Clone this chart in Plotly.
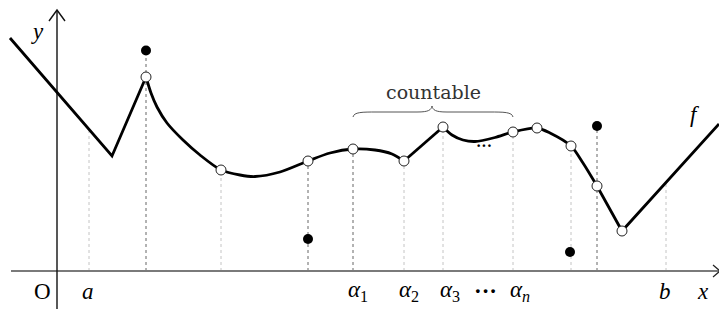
import plotly.graph_objects as go

# ---- data (math coordinates, origin O at the axes crossing) ----
seg1_x = [-47, 55, 89]
seg1_y = [233, 115, 194]

seg2_x = [89, 94, 100, 110, 126, 143, 164, 183, 198, 223, 251, 273, 296, 318, 335, 347]
seg2_y = [194, 178, 164, 148, 131, 116, 101, 96, 94.5, 99, 110, 118, 122, 121, 117, 110]

seg3_x = [347, 386]
seg3_y = [110, 144]

seg4_x = [386, 395, 406, 418, 438, 456, 480, 493, 514, 526, 540]
seg4_y = [144, 136, 131, 129.5, 133.5, 139, 143, 138, 125, 108, 85]

seg5_x = [540, 565, 662]
seg5_y = [85, 40, 147]

open_x = [89, 164, 251, 296, 347, 386, 456, 480, 514, 540, 565]
open_y = [194, 101, 110, 122, 110, 144, 139, 143, 125, 85, 40]

filled_x = [89, 251, 513, 540]
filled_y = [220.5, 32, 19, 145]

dark_guide_x = [89, 251, 296, 540]
dark_guide_top = [220.5, 110, 122, 145]
light_guide_x = [32, 164, 347, 386, 456, 514, 609]
light_guide_top = [140.6, 101, 110, 144, 139, 125, 88.5]

tick_labels = ["O", "<i>a</i>", "<i>α</i><sub>1</sub>", "<i>α</i><sub>2</sub>",
               "<i>α</i><sub>3</sub>", "<b>···</b>", "<i>α</i><sub><i>n</i></sub>",
               "<i>b</i>", "<i>x</i>"]
tick_label_x = [-15, 31, 301, 352, 393, 428, 463, 608, 646]

fig = go.Figure()

def guides(xs, tops, color):
    gx, gy = [], []
    for x, t in zip(xs, tops):
        gx += [x, x, None]
        gy += [0, t, None]
    fig.add_trace(go.Scatter(x=gx, y=gy, mode="lines",
                             line=dict(color=color, width=1, dash="3px,3px"),
                             hoverinfo="skip"))

guides(light_guide_x, light_guide_top, "#c4c4c4")
guides(dark_guide_x, dark_guide_top, "#666666")

# axes
fig.add_trace(go.Scatter(x=[-46, 662], y=[0, 0], mode="lines",
                         line=dict(color="#7a7a7a", width=2), hoverinfo="skip"))
fig.add_trace(go.Scatter(x=[656, 663, 656], y=[6, 0, -6], mode="lines",
                         line=dict(color="#222", width=1.2), hoverinfo="skip"))
fig.add_trace(go.Scatter(x=[0, 0], y=[-38, 261], mode="lines",
                         line=dict(color="#111", width=1.4), hoverinfo="skip"))
fig.add_trace(go.Scatter(x=[-8, 0, 8], y=[250, 261, 250], mode="lines",
                         line=dict(color="#111", width=1.4), hoverinfo="skip"))

# function graph
for sx, sy, shape in [(seg1_x, seg1_y, "linear"), (seg2_x, seg2_y, "spline"),
                      (seg3_x, seg3_y, "linear"), (seg4_x, seg4_y, "spline"),
                      (seg5_x, seg5_y, "linear")]:
    fig.add_trace(go.Scatter(x=sx, y=sy, mode="lines",
                             line=dict(color="black", width=2.8, shape=shape, smoothing=0.8),
                             hoverinfo="skip"))

fig.add_trace(go.Scatter(x=open_x, y=open_y, mode="markers",
                         marker=dict(size=10, color="white", line=dict(color="#222", width=1)),
                         hoverinfo="skip"))
fig.add_trace(go.Scatter(x=filled_x, y=filled_y, mode="markers",
                         marker=dict(size=10, color="black"), hoverinfo="skip"))

# brace over the countable set
fig.add_shape(type="path",
              path="M 296,154 C 297,159 305,159 320,159 L 360,159 C 372,159 374,161 375,165 "
                   "C 376,161 378,159 390,159 L 432,159 C 447,159 455,159 456,154",
              line=dict(color="#555", width=1))

annots = []
for t, x in zip(tick_labels, tick_label_x):
    annots.append(dict(x=x, y=-20, text=t, showarrow=False,
                       font=dict(family="Liberation Serif", size=23, color="black")))
annots.append(dict(x=-20, y=240, text="<i>y</i>", showarrow=False,
                   font=dict(family="Liberation Serif", size=23, color="black")))
annots.append(dict(x=638, y=157, text="<i>f</i>", showarrow=False,
                   font=dict(family="Liberation Serif", size=23, color="black")))
annots.append(dict(x=376, y=179, text="countable", showarrow=False,
                   font=dict(family="DejaVu Serif", size=19, color="#333")))
annots.append(dict(x=427, y=126, text="<b>···</b>", showarrow=False,
                   font=dict(family="Liberation Serif", size=16, color="black")))

fig.update_layout(
    width=719, height=309, margin=dict(l=0, r=0, t=0, b=0),
    paper_bgcolor="white", plot_bgcolor="white", showlegend=False,
    xaxis=dict(range=[-57, 662], visible=False, fixedrange=True),
    yaxis=dict(range=[-38, 271], visible=False, fixedrange=True),
    annotations=annots,
)
fig.write_html("out.html", config={"displayModeBar": False},
               post_script="document.body.style.margin='0';document.body.style.overflow='hidden';")
